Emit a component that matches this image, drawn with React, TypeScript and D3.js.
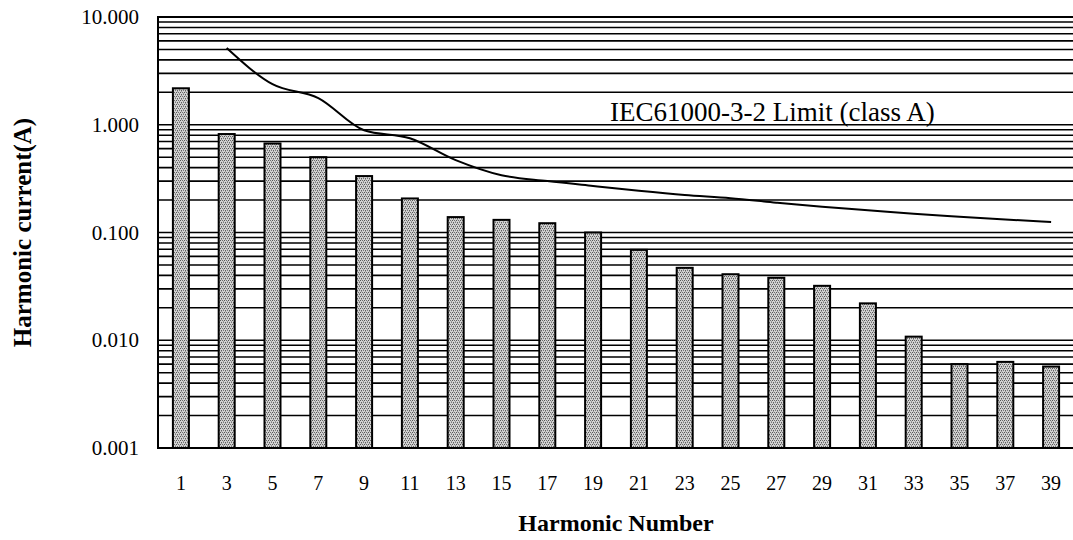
import React from 'react';
import * as d3 from 'd3';

// harmonic orders on the x axis
const harmonics = [1, 3, 5, 7, 9, 11, 13, 15, 17, 19, 21, 23, 25, 27, 29, 31, 33, 35, 37, 39];
// measured harmonic current (A)
const measured = [2.18, 0.82, 0.67, 0.5, 0.334, 0.207, 0.139, 0.131, 0.122, 0.1, 0.069, 0.047, 0.041, 0.038, 0.032, 0.022, 0.0108, 0.006, 0.0063, 0.0057];
// IEC61000-3-2 class A limit curve
const limitHarmonics = [3, 5, 7, 9, 11, 13, 15, 17, 19, 21, 23, 25, 27, 29, 31, 33, 35, 37, 39];
const limitValues = [5.16, 2.38, 1.77, 0.89, 0.75, 0.47, 0.34, 0.3, 0.27, 0.244, 0.223, 0.208, 0.189, 0.173, 0.161, 0.149, 0.14, 0.132, 0.125];
const yTickValues = [10, 1, 0.1, 0.01, 0.001];

const width = 1073;
const height = 540;
const margin = { top: 17, right: -1, bottom: 92, left: 158 };
const font = '"Liberation Serif", "Times New Roman", serif';

const App: React.FC = () => {
    const x = d3.scaleBand<number>()
        .domain(harmonics)
        .range([margin.left, width - margin.right]);

    const y = d3.scaleLog()
        .domain([0.001, 10])
        .range([height - margin.bottom, margin.top]);

    // major + minor gridlines, 1..9 per decade
    const grid: number[] = [];
    [0.001, 0.01, 0.1, 1].forEach(d => {
        d3.range(1, 10).forEach(k => grid.push(+(k * d).toPrecision(3)));
    });
    grid.push(10);

    const barW = 16;
    const cx = (h: number) => (x(h) ?? 0) + x.bandwidth() / 2;

    const line = d3.line<number>()
        .x((_, i) => cx(limitHarmonics[i]))
        .y(d => y(d))
        .curve(d3.curveMonotoneX);

    const fmt = d3.format('.3f');
    const [x0, x1] = x.range();
    const y0 = y(0.001);

    return (
        <svg width={width} height={height}
            style={{ position: 'absolute', left: 0, top: 0, background: '#fff' }}>
            <defs>
                <pattern id="stipple" width="4" height="4" patternUnits="userSpaceOnUse">
                    <rect width="4" height="4" fill="#d2d2d2" />
                    <rect x="0" y="0" width="1" height="1" fill="#555" />
                    <rect x="2" y="0" width="1" height="1" fill="#6c6c6c" />
                    <rect x="1" y="2" width="1" height="1" fill="#5e5e5e" />
                    <rect x="3" y="2" width="1" height="1" fill="#777" />
                    <rect x="3" y="1" width="1" height="1" fill="#999" />
                    <rect x="1" y="3" width="1" height="1" fill="#9a9a9a" />
                </pattern>
            </defs>

            {/* gridlines */}
            {grid.map(g => (
                <line key={g} x1={x0} x2={x1} y1={y(g)} y2={y(g)}
                    stroke="#000" strokeWidth={1.6} />
            ))}

            {/* frame */}
            <rect x={x0} y={margin.top} width={x1 - x0} height={y0 - margin.top}
                fill="none" stroke="#000" strokeWidth={2} />

            {/* bars */}
            {harmonics.map((h, i) => (
                <rect key={h} x={cx(h) - barW / 2} y={y(measured[i])}
                    width={barW} height={y0 - y(measured[i])}
                    fill="url(#stipple)" stroke="#000" strokeWidth={2} />
            ))}

            {/* limit curve */}
            <path d={line(limitValues) ?? ''} fill="none" stroke="#000" strokeWidth={2} />
            <text x={610} y={121} fontFamily={font} fontSize={27} fill="#000">
                IEC61000-3-2 Limit (class A)
            </text>

            {/* y ticks */}
            {yTickValues.map(v => (
                <text key={v} x={139} y={y(v) + 7} textAnchor="end"
                    fontFamily={font} fontSize={21} fill="#000">{fmt(v)}</text>
            ))}

            {/* x ticks */}
            {harmonics.map(h => (
                <text key={h} x={cx(h)} y={490} textAnchor="middle"
                    fontFamily={font} fontSize={20} fill="#000">{h}</text>
            ))}

            <text x={(x0 + x1) / 2} y={531} textAnchor="middle" fontFamily={font}
                fontSize={24} fontWeight="bold" fill="#000">Harmonic Number</text>
            <text transform={`translate(31,${(margin.top + y0) / 2}) rotate(-90)`}
                textAnchor="middle" fontFamily={font} fontSize={25} fontWeight="bold"
                fill="#000">Harmonic current(A)</text>
        </svg>
    );
};

export default App;
